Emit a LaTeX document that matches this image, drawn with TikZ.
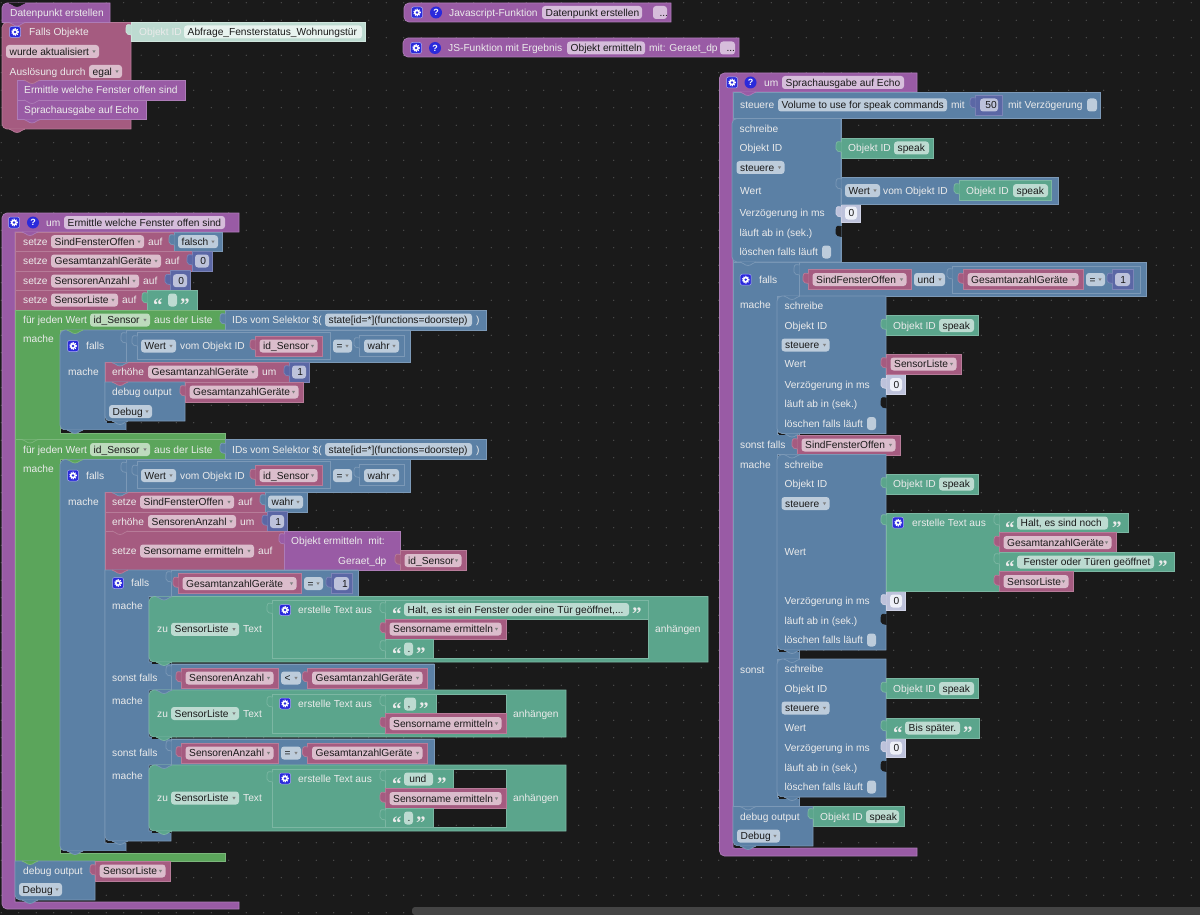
\documentclass[tikz,border=0pt]{standalone}
\usepackage{fontspec}
\setmainfont{Liberation Sans}
\newfontfamily\qfont{Liberation Serif}

\definecolor{grund}{HTML}{1A1A1A}
\definecolor{punkt}{HTML}{5A5A5A}
\definecolor{balken}{HTML}{444444}
\definecolor{purpC}{HTML}{995BA5}\definecolor{purpL}{HTML}{AD7CB7}\definecolor{purpF}{HTML}{D6BDDB}
\definecolor{rosaC}{HTML}{A55B80}\definecolor{rosaL}{HTML}{B77C99}\definecolor{rosaF}{HTML}{DBBDCC}
\definecolor{blauC}{HTML}{5B80A5}\definecolor{blauL}{HTML}{7C99B7}\definecolor{blauF}{HTML}{BDCCDB}
\definecolor{gruenC}{HTML}{5BA55B}\definecolor{gruenL}{HTML}{7CB77C}\definecolor{gruenF}{HTML}{BDDBBD}
\definecolor{teilC}{HTML}{5BA58C}\definecolor{teilL}{HTML}{7CB7A3}\definecolor{teilF}{HTML}{BDDBD1}
\definecolor{indiC}{HTML}{5B67A5}\definecolor{indiL}{HTML}{7C85B7}\definecolor{indiF}{HTML}{BDC2DB}
\definecolor{lavC}{HTML}{BDC2DB}\definecolor{lavL}{HTML}{D0D3E6}\definecolor{lavF}{HTML}{EEF0F8}
\definecolor{paleC}{HTML}{BDDBD1}\definecolor{paleL}{HTML}{D0E6DE}\definecolor{paleF}{HTML}{E8F3EF}
\definecolor{knopf}{HTML}{2A2ADB}

\tikzset{
  purp/.style={fill=purpC,draw=purpL,line width=.7pt},
  rosa/.style={fill=rosaC,draw=rosaL,line width=.7pt},
  blau/.style={fill=blauC,draw=blauL,line width=.7pt},
  gruen/.style={fill=gruenC,draw=gruenL,line width=.7pt},
  teil/.style={fill=teilC,draw=teilL,line width=.7pt},
  indi/.style={fill=indiC,draw=indiL,line width=.7pt},
  lav/.style={fill=lavC,draw=lavL,line width=.7pt},
  pale/.style={fill=paleC,draw=paleL,line width=.7pt},
  loch/.style={fill=grund,draw=grund,line width=.7pt},
  labtext/.style={anchor=base west,inner sep=0pt,text=white!92!black,font=\fontsize{10.2}{12}\selectfont},
  fldtext/.style={anchor=base west,inner sep=0pt,text=grund,font=\fontsize{10.2}{12}\selectfont},
  quote/.style={anchor=base west,inner sep=0pt,text=white!92!black,font=\qfont\bfseries\fontsize{19}{19}\selectfont},
  dotline/.style={punkt,line width=1.2pt,line cap=round,dash pattern=on 0pt off 17.5pt},
}

\newcounter{nr}
\newcommand{\rect}[5]{\draw[#1] (#2,#3) rectangle (#4,#5);}
\newcommand{\lab}[3]{\stepcounter{nr}\node[labtext] (n\thenr) at (#1,#2+3.6) {#3};}
\newcommand{\fld}[5]{\stepcounter{nr}\fill[#1,rounded corners=3pt] (#2,#4-6.5) rectangle (#3,#4+6.5);
  \node[fldtext] (n\thenr) at (#2+3.5,#4+3.6) {#5};}
\newcommand{\dd}[5]{\fld{#1}{#2}{#3}{#4}{#5}\fill[black!50] (#3-6.6,#4-1.1) -- (#3-3.4,#4-1.1) -- (#3-5,#4+1.5) -- cycle;}
\newcommand{\nt}[3]{\draw[#1] (#2+7,#3) .. controls (#2+10,#3) and (#2+11,#3+3.5) .. (#2+15,#3+3.5) .. controls (#2+19,#3+3.5) and (#2+20,#3) .. (#2+23,#3);}
\newcommand{\tb}[3]{\draw[#1] (#2+.5,#3-6) .. controls (#2-2,#3-7) and (#2-5,#3-7) .. (#2-5,#3-3) -- (#2-5,#3+1) .. controls (#2-5,#3+4) and (#2-2,#3+3) .. (#2+.5,#3+4);}
\newcommand{\shad}[3]{\fill[black!90] (#1+2,#3+.4) rectangle (#2,#3+1.8);}
\newcommand{\gear}[2]{\stepcounter{nr}\fill[knopf,rounded corners=2pt] (#1-5.5,#2-5.5) rectangle (#1+5.5,#2+5.5);
  \draw[white!60!knopf,rounded corners=2pt,line width=.5pt] (#1-5.5,#2-5.5) rectangle (#1+5.5,#2+5.5);
  \draw[white,line width=1.3pt,dash pattern=on 1pt off 1.09pt] (#1,#2) circle (3.2pt);
  \fill[white] (#1,#2) circle (3pt);\fill[knopf] (#1,#2) circle (1.3pt);}
\newcommand{\qm}[2]{\stepcounter{nr}\fill[knopf] (#1,#2) circle (6pt);
  \node[inner sep=0pt,text=white,font=\bfseries\fontsize{9}{9}\selectfont] (n\thenr) at (#1,#2) {?};}
\newcommand{\qL}[2]{\stepcounter{nr}\node[quote] (n\thenr) at (#1,#2+11) {“};}
\newcommand{\qR}[2]{\stepcounter{nr}\node[quote] (n\thenr) at (#1,#2+11) {”};}
% value blocks: x1, x2, y, text
\newcommand{\rv}[4]{\rect{rosa}{#1}{#3-10}{#2}{#3+10}\tb{rosa}{#1}{#3}\dd{rosaF}{#1+4.5}{#2-4.5}{#3}{#4}}
\newcommand{\nv}[4]{\rect{indi}{#1}{#3-10}{#2}{#3+10}\tb{indi}{#1}{#3}\fld{indiF}{#1+3}{#2-3}{#3}{#4}}
\newcommand{\oid}[3]{\rect{teil}{#1}{#2-10}{#1+92}{#2+10}\tb{teil}{#1}{#2}\lab{#1+7}{#2}{#3}\fld{teilF}{#1+53}{#1+88}{#2}{speak}}
\newcommand{\griddots}{\foreach \j in {0,...,52} {\draw[dotline] (1.2,2.7+17.5*\j) -- (1200,2.7+17.5*\j);}}
\newcommand{\void}[4]{\fill[grund] (#1,#2) rectangle (#3,#4);\begin{scope}\clip (#1,#2) rectangle (#3,#4);\griddots\end{scope}}
% write-to-state block: x, top, bottom
\newcommand{\schreibe}[3]{
  \draw[blau] (#1+109,#2) -- (#1+109,#3) [rounded corners=5pt] -- (#1,#3) -- (#1,#2) [sharp corners] -- (#1+109,#2) -- cycle;
  \lab{#1+7.5}{#2+10}{schreibe}\lab{#1+7.5}{#2+29.5}{Objekt ID}\dd{blauF}{#1+4.5}{#1+52.5}{#2+49}{steuere}
  \lab{#1+7.5}{#3-49}{Verzögerung in ms}\lab{#1+7.5}{#3-29.5}{läuft ab in (sek.)}\lab{#1+7.5}{#3-10}{löschen falls läuft}
  \fld{blauF}{#1+90}{#1+99}{#3-10}{}
  \oid{#1+109}{#2+29.5}{Objekt ID}
  \rect{lav}{#1+109}{#3-59}{#1+128.5}{#3-39.5}\tb{lav}{#1+109}{#3-49}\fld{lavF}{#1+113}{#1+125}{#3-49}{0}
  \tb{loch}{#1+109}{#3-29.5}
}
% append-text block: right, top, bottom, inner right
\newcommand{\zutext}[4]{
  \pgfmathsetmacro\ym{(#2+#3)/2}
  \draw[teil] (#1,#2) -- (#1,#3) [rounded corners=5pt] -- (149,#3) -- (149,#2) [sharp corners] -- (#1,#2) -- cycle;
  \lab{157}{\ym}{zu}\dd{teilF}{171}{239}{\ym}{SensorListe}\lab{243}{\ym}{Text}
  \rect{teil}{272}{#2+4}{#4}{#3-4}\tb{teil}{272}{#2+13}
  \gear{285}{#2+13.5}\lab{298}{#2+13.5}{erstelle Text aus}
  \lab{#4+7}{\ym}{anhängen}\shad{150}{171}{#3}
}
\newcommand{\jederwert}[3]{
  \draw[gruen] (225,#1) -- (225,#1+20) -- (60,#1+20) -- (60,#2) -- (225,#2) -- (225,#3) -- (15,#3) -- (15,#1) -- cycle;
  \lab{23}{#1+10}{für jeden Wert}\dd{gruenF}{90}{150}{#1+10}{id\_Sensor}\lab{154}{#1+10}{aus der Liste}\lab{23}{#1+29}{mache}
  \rect{blau}{225}{#1}{486}{#1+20}\tb{blau}{225}{#1+10}\lab{232}{#1+10}{IDs vom Selektor \$(}
  \fld{blauF}{325}{472}{#1+10}{state[id=*](functions=doorstep)}\lab{476}{#1+10}{)}
}
\newcommand{\fallsKopf}[1]{
  \gear{73}{#1+16}\lab{86}{#1+16}{falls}
  \rect{blau}{126}{#1}{410}{#1+32.5}\tb{blau}{126}{#1+9}
  \rect{blau}{137}{#1+2}{330}{#1+29}\tb{blau}{137}{#1+12}
  \dd{blauF}{141}{176}{#1+16}{Wert}\lab{180}{#1+16}{vom Objekt ID}
  \rv{255}{322}{#1+16}{id\_Sensor}\dd{blauF}{333}{352}{#1+16}{=}
  \rect{blau}{359}{#1+5}{404}{#1+26}\tb{blau}{359}{#1+14}\dd{blauF}{364}{399}{#1+16}{wahr}
  \lab{68}{#1+42}{mache}\nt{gruen}{60}{#1}
}

\begin{document}
\begin{tikzpicture}[x=1pt,y=-1pt]
\useasboundingbox (0,0) rectangle (1200,915);
\fill[grund] (0,0) rectangle (1200,915);
\griddots
\fill[balken,rounded corners=3pt] (412,907) rectangle (1206,915);

% trigger block
\draw[rosa] (131,22.5) -- (131,129) [rounded corners=5pt] -- (2,129) -- (2,22.5) [sharp corners] -- (131,22.5) -- cycle;
\nt{rosa}{2}{129}
\draw[purp] (110,3) -- (110,22.5) -- (2,22.5) [rounded corners=5pt] -- (2,3) [sharp corners] -- (110,3) -- cycle;
\nt{loch}{2}{3}\lab{10}{12.5}{Datenpunkt erstellen}
\nt{purp}{2}{22.5}
\gear{15}{32}\lab{29}{32}{Falls Objekte}
\rect{pale}{131}{22.5}{365}{41}\tb{pale}{131}{31}
\lab{139}{32}{Objekt ID}\fld{paleF}{184}{362}{32}{Abfrage\_Fensterstatus\_Wohnungstür}
\dd{rosaF}{6}{99}{51.5}{wurde aktualisiert}
\lab{9.5}{71.5}{Auslösung durch}\dd{rosaF}{89}{122}{71.5}{egal}
\rect{purp}{17}{80}{185}{100}\rect{purp}{17}{100}{146}{119.5}
\nt{rosa}{17}{80}\nt{purp}{17}{100}\nt{purp}{17}{119.5}
\lab{24}{90}{Ermittle welche Fenster offen sind}\lab{24}{110}{Sprachausgabe auf Echo}

% js functions
\draw[purp] (671,3) -- (671,22) [rounded corners=5pt] -- (404,22) -- (404,3) [sharp corners] -- (671,3) -- cycle;
\gear{417}{12.5}\qm{436}{12.5}\lab{449}{12.5}{Javascript-Funktion}
\fld{purpF}{542}{642}{12.5}{Datenpunkt erstellen}\fld{purpF}{653}{667}{12.5}{\ ...}
\draw[purp] (739,38) -- (739,57) [rounded corners=5pt] -- (403,57) -- (403,38) [sharp corners] -- (739,38) -- cycle;
\gear{416}{48}\qm{435}{48}\lab{448}{48}{JS-Funktion mit Ergebnis}
\fld{purpF}{567}{645}{48}{Objekt ermitteln}\lab{649}{48}{mit: Geraet\_dp}\fld{purpF}{720}{735}{48}{\ ...}

% function: Ermittle welche Fenster offen sind
\draw[purp] (239,232) -- (239,213) [rounded corners=5pt] -- (2,213) -- (2,909) [sharp corners] -- (239,909) -- (239,902) -- (15,902) -- (15,232) -- cycle;
\gear{14}{222.5}\qm{33}{222.5}\lab{46}{222.5}{um}\fld{purpF}{64}{225}{222.5}{Ermittle welche Fenster offen sind}
\rect{rosa}{15}{232}{174}{251.5}\rect{blau}{174}{232}{222}{251.5}\tb{blau}{174}{241}
\nt{purp}{15}{232}
\lab{23}{241.7}{setze}\dd{rosaF}{51}{144}{241.7}{SindFensterOffen}\lab{148}{241.7}{auf}\dd{blauF}{178}{218}{241.7}{falsch}
\rect{rosa}{15}{251.5}{192}{271}\nv{192}{212}{261}{\,0}
\lab{23}{261}{setze}\dd{rosaF}{51}{161}{261}{GesamtanzahlGeräte}\lab{165}{261}{auf}
\rect{rosa}{15}{271}{170}{290.5}\nv{170}{190}{280.7}{\,0}
\lab{23}{281}{setze}\dd{rosaF}{51}{139}{281}{SensorenAnzahl}\lab{143}{281}{auf}
\rect{rosa}{15}{290.5}{147}{310}\rect{teil}{147}{290.5}{197}{310}\tb{teil}{147}{299}
\lab{23}{300}{setze}\dd{rosaF}{51}{118}{300}{SensorListe}\lab{122}{300}{auf}
\qL{153}{300}\fld{teilF}{168}{177}{300}{}\qR{180}{300}

% first loop
\jederwert{310}{433}{439.5}
\draw[blau] (410,330) -- (410,362.5) -- (105,362.5) -- (105,421) -- (126,421) -- (126,430) [rounded corners=5pt] -- (60,430) -- (60,330) [sharp corners] -- (410,330) -- cycle;
\fallsKopf{330}\shad{60}{126}{430}\nt{blau}{60}{430}
\rect{rosa}{105}{362.5}{289}{382}\nv{289}{309}{372}{\,1}
\nt{blau}{105}{362.5}
\lab{112}{372}{erhöhe}\dd{rosaF}{148}{258}{372}{GesamtanzahlGeräte}\lab{262}{372}{um}
\draw[blau] (185,382) -- (185,421) [rounded corners=5pt] -- (105,421) [sharp corners] -- (105,382) -- cycle;
\rv{185}{303}{392}{GesamtanzahlGeräte}\nt{rosa}{105}{382}
\lab{112}{392}{debug output}\dd{blauF}{109}{152}{411.5}{Debug}
\shad{105}{126}{421}\nt{blau}{105}{421}

% second loop
\jederwert{439.5}{853}{861}
\nt{gruen}{15}{439.5}
\draw[blau] (410,459.5) -- (410,492.5) -- (105,492.5) -- (105,843) -- (126,843) -- (126,851) [rounded corners=5pt] -- (60,851) -- (60,459.5) [sharp corners] -- (410,459.5) -- cycle;
\fallsKopf{459.5}\shad{60}{126}{851}\nt{blau}{60}{851}
\rect{rosa}{105}{492.5}{265}{512}\rect{blau}{265}{492.5}{307}{512}\tb{blau}{265}{501}
\nt{blau}{105}{492.5}
\lab{112}{502}{setze}\dd{rosaF}{140}{234}{502}{SindFensterOffen}\lab{238}{502}{auf}\dd{blauF}{268}{303}{502}{wahr}
\rect{rosa}{105}{512}{267}{531}\nv{267}{287}{521.5}{\,1}
\lab{112}{521.5}{erhöhe}\dd{rosaF}{148}{236}{521.5}{SensorenAnzahl}\lab{240}{521.5}{um}
\rect{rosa}{105}{531}{284}{570}\nt{rosa}{105}{531}
\lab{112}{551}{setze}\dd{rosaF}{140}{254}{551}{Sensorname ermitteln}\lab{258}{551}{auf}
\rect{purp}{284}{531}{400}{570}\tb{purp}{284}{540}
\lab{291}{541}{Objekt ermitteln\ \ mit:}\lab{338}{561}{Geraet\_dp}\rv{400}{466}{560.5}{id\_Sensor}

% inner if
\draw[blau] (105,570) -- (358,570) -- (358,596.5) -- (149,596.5) -- (149,662) -- (171,662) -- (171,664) -- (434,664) -- (434,690) -- (149,690) -- (149,737) -- (171,737) -- (171,739) -- (434,739) -- (434,765) -- (149,765) -- (149,831) -- (171,831) -- (171,841) [rounded corners=5pt] -- (105,841) [sharp corners] -- cycle;
\nt{rosa}{105}{570}\shad{105}{126}{841}\nt{blau}{105}{841}
\gear{118}{583}\lab{131}{583}{falls}\lab{112}{606}{mache}
\rect{blau}{171}{570}{358}{596.5}\tb{blau}{171}{578}\rv{178}{301}{583.5}{GesamtanzahlGeräte}
\dd{blauF}{304}{323}{583.5}{=}\nv{331}{352}{583.5}{\ \,1}
\zutext{708}{596.5}{662}{648}
\nt{blau}{149}{596.5}\nt{teil}{149}{662}
\void{385}{619}{647.5}{657.5}
\rect{teil}{385}{600.5}{648}{619}\tb{teil}{385}{609}\qL{392}{609.5}\fld{teilF}{404}{629}{609.5}{Halt, es ist ein Fenster oder eine Tür geöffnet,...}\qR{632}{609.5}
\rv{385}{506}{629}{Sensorname ermitteln}
\rect{teil}{385}{639}{433}{658}\tb{teil}{385}{647}\qL{392}{649}\fld{teilF}{404}{413}{649}{.}\qR{416}{649}

\lab{112}{678}{sonst falls}\lab{112}{700.5}{mache}
\rect{blau}{171}{664}{434}{690}\tb{blau}{171}{672}\rv{181}{278}{678}{SensorenAnzahl}\dd{blauF}{281}{301}{678}{<}\rv{307.5}{427}{678}{GesamtanzahlGeräte}
\zutext{566}{690}{737}{506}
\nt{blau}{149}{690}\nt{teil}{149}{737}
\void{436}{694.5}{505.5}{713}
\rect{teil}{385}{694}{436}{713.5}\tb{teil}{385}{702}\qL{392}{704}\fld{teilF}{404}{416}{704}{,}\qR{419}{704}
\rv{385}{506}{723.5}{Sensorname ermitteln}

\lab{112}{753}{sonst falls}\lab{112}{775.5}{mache}
\rect{blau}{171}{739}{434}{765}\tb{blau}{171}{747}\rv{181}{278}{753}{SensorenAnzahl}\dd{blauF}{281}{301}{753}{=}\rv{307.5}{427}{753}{GesamtanzahlGeräte}
\zutext{566}{765}{831}{506}
\nt{blau}{149}{765}\nt{teil}{149}{831}
\void{453}{769.5}{505.5}{788}\void{433}{808.5}{505.5}{826.5}
\rect{teil}{385}{769}{453}{788.5}\tb{teil}{385}{777}\qL{392}{779}\fld{teilF}{404}{433}{779}{\,und}\qR{437}{779}
\rv{385}{506}{798.5}{Sensorname ermitteln}
\rect{teil}{385}{808.5}{433}{827}\tb{teil}{385}{816}\qL{392}{818}\fld{teilF}{404}{413}{818}{.}\qR{416}{818}

% debug at the end
\draw[blau] (95,861) -- (95,900) [rounded corners=5pt] -- (15,900) [sharp corners] -- (15,861) -- cycle;
\rv{95}{170}{871}{SensorListe}\nt{gruen}{15}{861}
\lab{23}{871}{debug output}\dd{blauF}{19}{62}{889.5}{Debug}\nt{blau}{15}{900}

% function: Sprachausgabe auf Echo
\draw[purp] (917,92) -- (917,73) [rounded corners=5pt] -- (719.5,73) -- (719.5,856) [sharp corners] -- (917,856) -- (917,848) -- (733,848) -- (733,92) -- cycle;
\gear{732}{82.5}\qm{750.5}{82.5}\lab{764}{82.5}{um}\fld{purpF}{782}{904}{82.5}{Sprachausgabe auf Echo}
\rect{blau}{733}{92}{1100}{118.5}\nt{purp}{733}{92}\nt{blau}{733}{118.5}
\lab{740}{105}{steuere}\fld{blauF}{778}{947}{105}{Volume to use for speak commands}\lab{951}{105}{mit}
\rect{indi}{975}{95}{1002}{115}\tb{indi}{975}{104}\fld{indiF}{980}{998}{105}{\,50}\lab{1008}{105}{mit Verzögerung}\fld{blauF}{1087}{1097}{105}{}

% falls chain comes before the first write block so its notch stays on top
\draw[blau] (733,262) -- (1146.5,262) -- (1146.5,296) -- (777,296) -- (777,434) -- (799,434) -- (799,454) -- (777,454) -- (777,650) -- (799,650) -- (799,659) -- (777,659) -- (777,797) -- (799,797) -- (799,806.5) -- (733,806.5) -- cycle;
\rect{blau}{733}{118.5}{841}{262}
\schreibe{732}{118.5}{262}
\rect{blau}{841}{177}{1058}{204}\tb{blau}{841}{185}
\dd{blauF}{845}{880}{190.6}{Wert}\lab{883}{190.6}{vom Objekt ID}
\rect{teil}{959}{180.5}{1051}{200.5}\tb{teil}{959}{190}\lab{966}{190.6}{Objekt ID}\fld{teilF}{1013}{1048}{190.6}{speak}
\lab{740}{190.6}{Wert}
\nt{blau}{733}{262}
\gear{745.7}{279.7}\lab{759}{279.7}{falls}\lab{740}{305}{mache}
\rect{blau}{799}{262}{1146.5}{296}\tb{blau}{799}{271}
\rv{808}{911}{279.5}{SindFensterOffen}\dd{blauF}{914}{945}{279.5}{und}
\rect{blau}{952}{266}{1140}{293}\tb{blau}{952}{275}\rv{963}{1083}{279.5}{GesamtanzahlGeräte}\dd{blauF}{1086}{1105}{279.5}{=}\nv{1112}{1133}{279.5}{\,1}

\schreibe{777}{296}{433.5}\nt{blau}{777}{296}\shad{777}{799}{433.5}\nt{blau}{777}{433.5}
\lab{784.5}{364}{Wert}\rv{886}{961}{364}{SensorListe}
\lab{740}{445}{sonst falls}\rv{797}{900}{445}{SindFensterOffen}\lab{740}{464.6}{mache}

\schreibe{777}{454.5}{650}\nt{blau}{777}{454.5}
\lab{784.5}{552}{Wert}
\rect{teil}{886}{513}{999}{591}\tb{teil}{886}{521}\gear{898}{522.7}\lab{912}{522.7}{erstelle Text aus}
\rect{teil}{999}{513}{1128}{532.5}\tb{teil}{999}{521}\qL{1005}{523}\fld{teilF}{1017}{1108}{523}{Halt, es sind noch}\qR{1112}{523}
\rv{999}{1116}{542.5}{GesamtanzahlGeräte}
\rect{teil}{999}{552}{1174}{571.5}\tb{teil}{999}{560}\qL{1005}{562}\fld{teilF}{1017}{1154}{562}{\ Fenster oder Türen geöffnet}\qR{1158}{562}
\rv{999}{1073}{581.5}{SensorListe}
\shad{777}{799}{650}\nt{blau}{777}{650}

\lab{740}{669.6}{sonst}
\schreibe{777}{659}{797}\nt{blau}{777}{659}\shad{777}{799}{797}\nt{blau}{777}{797}
\lab{784.5}{728}{Wert}
\rect{teil}{886}{718}{979}{738}\tb{teil}{886}{727}\qL{893}{728}\fld{teilF}{905}{960}{728}{Bis später.}\qR{963}{728}

\draw[blau] (813,806.5) -- (813,846) [rounded corners=5pt] -- (733,846) [sharp corners] -- (733,806.5) -- cycle;
\nt{blau}{733}{806.5}\shad{733}{790}{846}\nt{blau}{733}{846}
\lab{740}{816.7}{debug output}\dd{blauF}{737}{780}{836}{Debug}
\rect{teil}{813}{806.5}{904}{826}\tb{teil}{813}{815}\lab{820}{816.7}{Objekt ID}\fld{teilF}{866}{899}{816.7}{speak}
\end{tikzpicture}
\end{document}
